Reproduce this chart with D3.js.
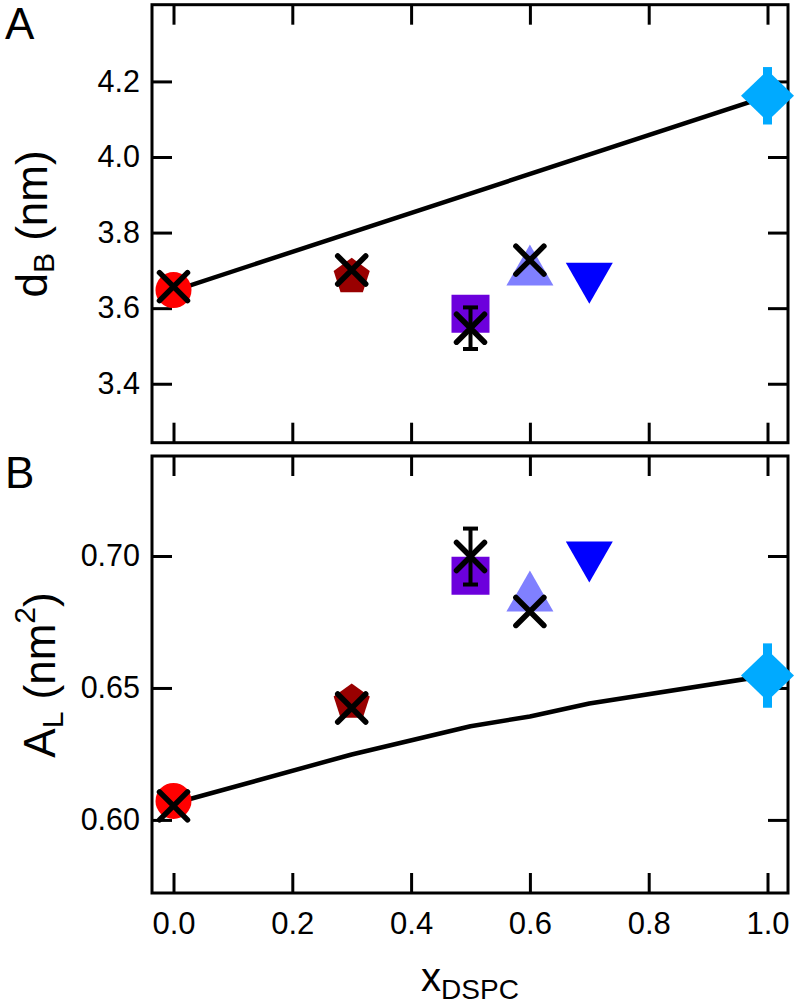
<!DOCTYPE html>
<html>
<head>
<meta charset="utf-8">
<script src="https://cdn.jsdelivr.net/npm/d3@7"></script>
<style>
  html, body { margin: 0; padding: 0; background: #fff; }
  svg { display: block; font-family: "Liberation Sans", Arial, Helvetica, sans-serif; }
</style>
</head>
<body>
<svg id="chart" width="798" height="1007"></svg>
<script>
// ---------- data ----------
const xTicks = [0.0, 0.2, 0.4, 0.6, 0.8, 1.0];
const dBTicks = [3.4, 3.6, 3.8, 4.0, 4.2];
const ALTicks = [0.60, 0.65, 0.70];

// coloured markers (one per composition)
const xDSPC = [0.0, 0.3, 0.5, 0.6, 0.7, 1.0];
const markerShapes = ["circle", "pentagon", "square", "triangleUp", "triangleDown", "diamond"];
const markerColors = ["#ff0000", "#990000", "#6c00dc", "#8080ff", "#0000ff", "#00aaff"];
const dBValues = [3.648, 3.683, 3.585, 3.714, 3.666, 4.162];
const dBErrors = [0, 0, 0, 0, 0, 0.076];
const ALValues = [0.6072, 0.6445, 0.6925, 0.6867, 0.6977, 0.6547];
const ALErrors = [0, 0, 0, 0, 0, 0.0122];

// black cross markers
const xCross = [0.0, 0.3, 0.5, 0.6];
const dBCross = [3.657, 3.701, 3.547, 3.727];
const dBCrossErr = [0, 0, 0.055, 0];
const ALCross = [0.6053, 0.6424, 0.6998, 0.6790];
const ALCrossErr = [0, 0, 0.0106, 0];

// black lines
const xLineA = [0.0, 1.0];
const dBLine = [3.646, 4.161];
const xLineB = [0.0, 0.3, 0.5, 0.6, 0.7, 1.0];
const ALLine = [0.6062, 0.6248, 0.6355, 0.6392, 0.6441, 0.6547];

// ---------- layout ----------
const svg = d3.select("#chart");
const left = 152, right = 788;
const panels = [
  { key: "A", top: 4.7, bottom: 442.7, domain: [3.244, 4.403], ticks: dBTicks, fmt: d3.format(".1f"),
    vals: dBValues, errs: dBErrors, cross: dBCross, crossErr: dBCrossErr, lx: xLineA, ly: dBLine,
    labelY: 39, titleX: 47, showX: false },
  { key: "B", top: 456, bottom: 893, domain: [0.5723, 0.7379], ticks: ALTicks, fmt: d3.format(".2f"),
    vals: ALValues, errs: ALErrors, cross: ALCross, crossErr: ALCrossErr, lx: xLineB, ly: ALLine,
    labelY: 488, titleX: 55, showX: true }
];

const x = d3.scaleLinear().domain([-0.0362, 1.0345]).range([left, right]);

function shapePath(shape) {
  const pts = [];
  if (shape === "pentagon") {
    const R = 19;
    for (let i = 0; i < 5; i++) {
      const a = -Math.PI / 2 + i * 2 * Math.PI / 5;
      pts.push([R * Math.cos(a), R * Math.sin(a)]);
    }
  } else if (shape === "square") {
    const s = 19;
    pts.push([-s, -s], [s, -s], [s, s], [-s, s]);
  } else if (shape === "triangleUp") {
    pts.push([0, -20.5], [23.5, 20.5], [-23.5, 20.5]);
  } else if (shape === "triangleDown") {
    pts.push([-23.5, -20.5], [23.5, -20.5], [0, 20.5]);
  } else if (shape === "diamond") {
    pts.push([0, -25.5], [26.5, 0], [0, 25.5], [-26.5, 0]);
  }
  return "M" + pts.map(p => p.join(",")).join("L") + "Z";
}

panels.forEach(p => {
  const y = d3.scaleLinear().domain(p.domain).range([p.bottom, p.top]);
  const g = svg.append("g");

  // axes (ticks inward on all four sides)
  const styleAxis = sel => {
    sel.select(".domain").remove();
    sel.selectAll(".tick line").attr("stroke", "#000").attr("stroke-width", 3);
    sel.selectAll(".tick text").attr("fill", "#000");
  };
  g.append("g").attr("transform", `translate(${left},0)`)
    .call(d3.axisLeft(y).tickValues(p.ticks).tickSize(-20).tickPadding(12).tickFormat(p.fmt))
    .call(styleAxis)
    .selectAll(".tick text").attr("font-size", 30.5).attr("font-family", "Liberation Sans, Arial, sans-serif");
  g.append("g").attr("transform", `translate(${right},0)`)
    .call(d3.axisRight(y).tickValues(p.ticks).tickSize(-20).tickFormat(""))
    .call(styleAxis);
  g.append("g").attr("transform", `translate(0,${p.top})`)
    .call(d3.axisTop(x).tickValues(xTicks).tickSize(-20).tickFormat(""))
    .call(styleAxis);
  const bx = g.append("g").attr("transform", `translate(0,${p.bottom})`)
    .call(d3.axisBottom(x).tickValues(xTicks).tickSize(-20).tickPadding(19)
      .tickFormat(p.showX ? d3.format(".1f") : ""))
    .call(styleAxis);
  bx.selectAll(".tick text").attr("font-size", 31).attr("font-family", "Liberation Sans, Arial, sans-serif");

  // frame
  g.append("rect").attr("x", left).attr("y", p.top)
    .attr("width", right - left).attr("height", p.bottom - p.top)
    .attr("fill", "none").attr("stroke", "#000").attr("stroke-width", 3);

  // line
  const lineData = p.lx.map((v, i) => [v, p.ly[i]]);
  g.append("path").datum(lineData)
    .attr("d", d3.line().x(d => x(d[0])).y(d => y(d[1])))
    .attr("fill", "none").attr("stroke", "#000").attr("stroke-width", 4.5)
    .attr("stroke-linejoin", "round");

  // coloured error bars
  xDSPC.forEach((v, i) => {
    if (p.errs[i] > 0) {
      g.append("line")
        .attr("x1", x(v)).attr("x2", x(v))
        .attr("y1", y(p.vals[i] - p.errs[i])).attr("y2", y(p.vals[i] + p.errs[i]))
        .attr("stroke", markerColors[i]).attr("stroke-width", 9);
    }
  });

  // coloured markers
  xDSPC.forEach((v, i) => {
    const shape = markerShapes[i];
    if (shape === "circle") {
      g.append("circle").attr("cx", x(v)).attr("cy", y(p.vals[i])).attr("r", 18)
        .attr("fill", markerColors[i]);
    } else {
      g.append("path").attr("d", shapePath(shape))
        .attr("transform", `translate(${x(v)},${y(p.vals[i])})`)
        .attr("fill", markerColors[i]);
    }
  });

  // black crosses with error bars
  xCross.forEach((v, i) => {
    const cx = x(v), cy = y(p.cross[i]);
    const e = p.crossErr[i];
    if (e > 0) {
      const y1 = y(p.cross[i] - e), y2 = y(p.cross[i] + e);
      g.append("line").attr("x1", cx).attr("x2", cx).attr("y1", y1).attr("y2", y2)
        .attr("stroke", "#000").attr("stroke-width", 4);
      [y1, y2].forEach(yy => {
        g.append("line").attr("x1", cx - 7.5).attr("x2", cx + 7.5).attr("y1", yy).attr("y2", yy)
          .attr("stroke", "#000").attr("stroke-width", 4);
      });
    }
    const h = 14;
    g.append("path")
      .attr("d", `M${cx - h},${cy - h}L${cx + h},${cy + h}M${cx - h},${cy + h}L${cx + h},${cy - h}`)
      .attr("stroke", "#000").attr("stroke-width", 5.5).attr("stroke-linecap", "round")
      .attr("fill", "none");
  });

  // panel letter
  svg.append("text").attr("x", 5).attr("y", p.labelY)
    .attr("font-size", 44).attr("fill", "#000").text(p.key);
});

// y titles
const tA = svg.append("text").attr("transform", "translate(47,224) rotate(-90)")
  .attr("text-anchor", "middle").attr("font-size", 44).attr("fill", "#000");
tA.append("tspan").text("d");
tA.append("tspan").attr("font-size", 30).attr("dy", 7).text("B");
tA.append("tspan").attr("dy", -7).text(" (nm)");

const tB = svg.append("text").attr("transform", "translate(55,675) rotate(-90)")
  .attr("text-anchor", "middle").attr("font-size", 44).attr("fill", "#000");
tB.append("tspan").text("A");
tB.append("tspan").attr("font-size", 30).attr("dy", 8).text("L");
tB.append("tspan").attr("dy", -8).text(" (nm");
tB.append("tspan").attr("font-size", 30).attr("dy", -20).text("2");
tB.append("tspan").attr("dy", 20).text(")");

// x title
const tX = svg.append("text").attr("x", 470).attr("y", 991)
  .attr("text-anchor", "middle").attr("font-size", 40).attr("fill", "#000");
tX.append("tspan").text("x");
tX.append("tspan").attr("font-size", 28).attr("dy", 8).text("DSPC");
</script>
</body>
</html>
